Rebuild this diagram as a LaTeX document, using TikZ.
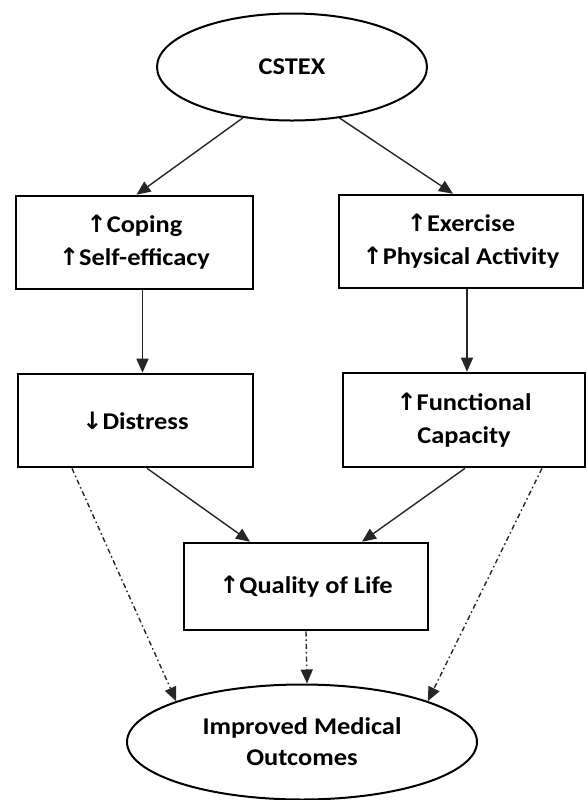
\documentclass[tikz,border=0pt]{standalone}
\usepackage{fontspec}
\setmainfont{Carlito}[FakeStretch=1.1]
\newfontfamily\symfont{DejaVu Sans}
\usepackage{tikz}
\usetikzlibrary{arrows.meta,positioning,shapes.geometric}
\newcommand{\upar}{{\symfont\char"2191}}
\newcommand{\downar}{{\symfont\char"2193}}
\tikzset{
  ovalnode/.style={
    ellipse, draw=black, line width=1pt, fill=white,
    font=\fontsize{12pt}{15.5pt}\selectfont\bfseries, align=center,
    inner sep=0pt
  },
  factorbox/.style={
    rectangle, draw=black, line width=1.3pt, fill=white,
    font=\fontsize{12pt}{16.5pt}\selectfont\bfseries, align=center,
    inner sep=2pt
  },
  linkarrow/.style={
    -{Triangle[length=7pt,width=6pt]}, line width=0.7pt, color=#1
  },
  linkarrow/.default=black!85,
  pathdash/.style={
    linkarrow, dash pattern=on 2.5pt off 1.5pt on 0.8pt off 1.5pt
  },
}
\begin{document}
\begin{tikzpicture}[x=0.5pt, y=-0.5pt]
\useasboundingbox (0,0) rectangle (588,800);
% Top
\node[ovalnode, minimum width=135pt, minimum height=53.5pt] (cstex) at (292,67) {CSTEX};
% Left branch
\node[factorbox, minimum width=118.5pt, minimum height=46.5pt] (coping) at (134.5,242.5) {\upar Coping\\\upar Self-efficacy};
\node[factorbox, minimum width=117.5pt, minimum height=46.5pt] (distress) at (135.5,420.5) {\downar Distress};
% Right branch
\node[factorbox, minimum width=122pt, minimum height=46.5pt] (exercise) at (461,241.5) {\upar Exercise\\\upar Physical Activity};
\node[factorbox, minimum width=121pt, minimum height=47pt] (capacity) at (464,420) {\upar Functional\\Capacity};
% Bottom
\node[factorbox, minimum width=122pt, minimum height=43.5pt] (qol) at (306,586.5) {\upar Quality of Life};
\node[ovalnode, minimum width=175pt, minimum height=57.5pt] (outcomes) at (302,742) {Improved Medical\\Outcomes};

\draw[linkarrow] (cstex.226) -- ([xshift=1pt]coping.north);
\draw[linkarrow] (cstex.-47) -- ([xshift=-4pt]exercise.north);
\draw[linkarrow] ([xshift=4pt]coping.south) -- ([xshift=3.5pt]distress.north);
\draw[linkarrow] ([xshift=3pt]exercise.south) -- ([xshift=1.5pt]capacity.north);
\draw[linkarrow] ([xshift=5.75pt]distress.south) -- ([xshift=-28pt]qol.north);
\draw[linkarrow] ([xshift=0.5pt]capacity.south) -- ([xshift=28pt]qol.north);
\draw[pathdash] ([xshift=-31.75pt]distress.south) -- (outcomes.162);
\draw[pathdash] ([xshift=39pt]capacity.south) -- (outcomes.18);
\draw[pathdash] (qol.south) -- ([xshift=2.5pt]outcomes.north);
\end{tikzpicture}
\end{document}
